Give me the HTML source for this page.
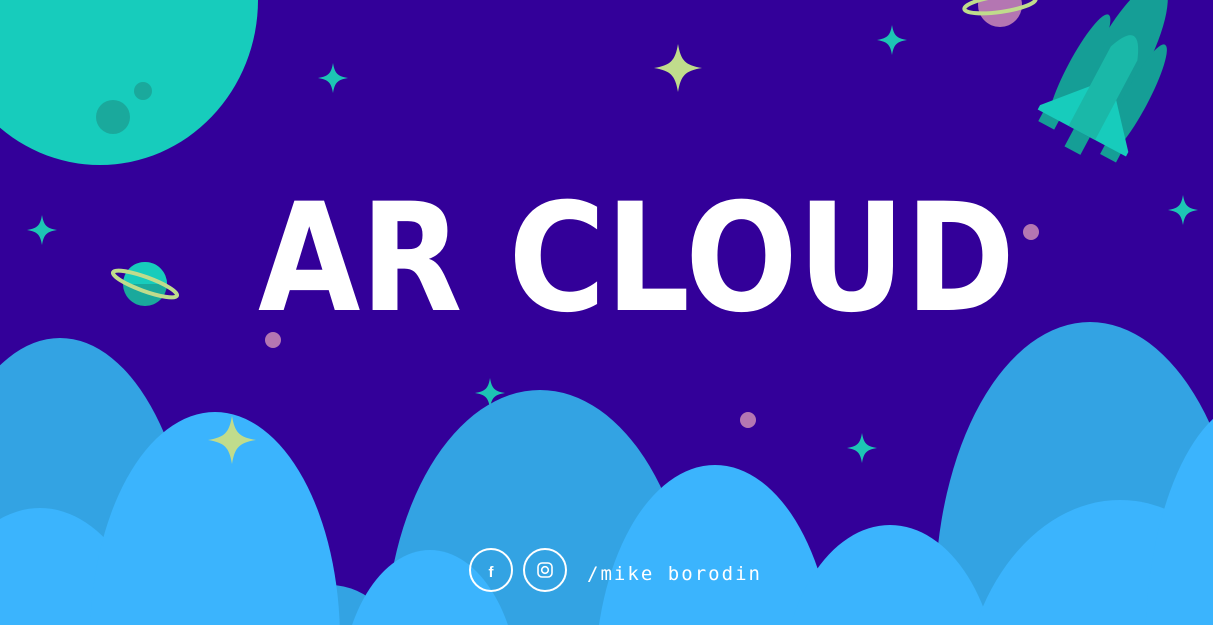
<!DOCTYPE html>
<html><head><meta charset="utf-8"><style>
html,body{margin:0;padding:0;background:#330099;overflow:hidden;width:1213px;height:625px}
svg{display:block}
</style></head><body>
<svg width="1213" height="625" viewBox="0 0 1213 625" xmlns="http://www.w3.org/2000/svg">
<defs>
<path id="st" d="M0,-1 C0.12,-0.3 0.3,-0.12 1,0 C0.3,0.12 0.12,0.3 0,1 C-0.12,0.3 -0.3,0.12 -1,0 C-0.3,-0.12 -0.12,-0.3 0,-1Z"/>
</defs>
<rect width="1213" height="625" fill="#330099"/>
<!-- moon -->
<ellipse cx="100" cy="0" rx="158" ry="165" fill="#17ccbc"/>
<circle cx="113" cy="117" r="17" fill="#1aa99c"/>
<circle cx="143" cy="91" r="9" fill="#1aa99c"/>
<!-- top planet -->
<circle cx="1000" cy="5" r="22" fill="#b476b2"/>
<ellipse cx="1000" cy="4" rx="36" ry="8" fill="none" stroke="#c0dc8c" stroke-width="4" transform="rotate(-8 1000 4)"/>
<!-- left planet -->
<circle cx="145" cy="284" r="22" fill="#1aa99c"/>
<path d="M123,284 A22,22 0 0 1 167,284Z" fill="#17ccbc"/>
<ellipse cx="145" cy="284" rx="34" ry="7" fill="none" stroke="#c0dc8c" stroke-width="4" transform="rotate(20 145 284)"/>
<!-- rocket -->
<g transform="rotate(28 1110 80)">
<ellipse cx="1110" cy="55" rx="26" ry="85" fill="#159e96"/>
<ellipse cx="1078" cy="85" rx="12" ry="62" fill="#159e96"/>
<ellipse cx="1142" cy="85" rx="12" ry="62" fill="#159e96"/>
<rect x="1066" y="130" width="18" height="20" fill="#159e96"/>
<rect x="1101" y="140" width="18" height="20" fill="#159e96"/>
<rect x="1136" y="130" width="18" height="20" fill="#159e96"/>
<path d="M1060,135 L1095,95 L1125,95 L1160,135 L1160,140 L1060,140Z" fill="#17ccbc"/>
<path d="M1095,140 L1095,50 Q1110,10 1125,50 L1125,140Z" fill="#1ab8a8"/>
</g>
<!-- stars -->
<g fill="#1dc5b4">
<use href="#st" transform="translate(333,78) scale(15)"/>
<use href="#st" transform="translate(892,40) scale(15)"/>
<use href="#st" transform="translate(42,230) scale(15)"/>
<use href="#st" transform="translate(1183,210) scale(15)"/>
<use href="#st" transform="translate(490,393) scale(15)"/>
<use href="#st" transform="translate(862,448) scale(15)"/>
</g>
<g fill="#c0dc8c">
<use href="#st" transform="translate(678,68) scale(24)"/>
<use href="#st" transform="translate(1083,367) scale(24)"/>
</g>
<g fill="#b476b2">
<circle cx="273" cy="340" r="8"/>
<circle cx="748" cy="420" r="8"/>
<circle cx="1031" cy="232" r="8"/>
</g>
<!-- title -->
<text x="258" y="310" font-family="DejaVu Sans, sans-serif" font-weight="bold" font-size="150" fill="#fff" textLength="757" lengthAdjust="spacingAndGlyphs">AR CLOUD</text>
<!-- dark clouds -->
<g fill="#33a3e3">
<ellipse cx="60" cy="600" rx="135" ry="262"/>
<ellipse cx="540" cy="650" rx="155" ry="260"/>
<ellipse cx="1090" cy="600" rx="155" ry="278"/>
<ellipse cx="330" cy="660" rx="70" ry="75"/>
</g>
<!-- light clouds -->
<g fill="#3bb4fd">
<ellipse cx="40" cy="700" rx="120" ry="192"/>
<ellipse cx="215" cy="640" rx="125" ry="228"/>
<ellipse cx="430" cy="700" rx="90" ry="150"/>
<ellipse cx="715" cy="680" rx="120" ry="215"/>
<ellipse cx="890" cy="700" rx="110" ry="175"/>
<ellipse cx="1120" cy="720" rx="160" ry="220"/>
<ellipse cx="1255" cy="650" rx="110" ry="250"/>
</g>
<use href="#st" fill="#c0dc8c" transform="translate(232,440) scale(24)"/>
<!-- footer -->
<circle cx="491" cy="570" r="21" fill="none" stroke="#fff" stroke-width="2"/>
<circle cx="545" cy="570" r="21" fill="none" stroke="#fff" stroke-width="2"/>
<text x="491" y="577" text-anchor="middle" font-family="Liberation Sans, sans-serif" font-weight="bold" font-size="15" fill="#fff">f</text>
<rect x="538" y="563" width="14" height="14" rx="4" fill="none" stroke="#fff" stroke-width="1.6"/>
<circle cx="545" cy="570" r="3.3" fill="none" stroke="#fff" stroke-width="1.6"/>
<text x="587" y="580" font-family="DejaVu Sans Mono, monospace" font-size="19" fill="#fff" textLength="173">/mike borodin</text>
</svg>
</body></html>
